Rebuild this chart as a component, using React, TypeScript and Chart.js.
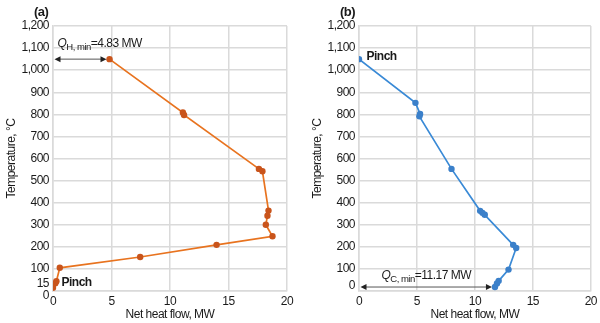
import React, { useEffect, useRef } from 'react';
import { Chart, registerables } from 'chart.js';

Chart.register(...registerables);

const FONT = '"Liberation Sans", Arial, sans-serif';
const TEXT = '#1a1a1a';
const GRID = '#dadada';
const SPACING = '-0.5px';

// Axis ticks
const xTicks = [0, 5, 10, 15, 20];
const yTicks = [0, 100, 200, 300, 400, 500, 600, 700, 800, 900, 1000, 1100, 1200];

// (a) hot composite: net heat flow (MW) vs temperature (°C)
const hotQ = [4.83, 11.1, 11.2, 17.6, 17.9, 18.42, 18.33, 18.19, 18.76, 13.98, 7.45, 0.58, 0.29, 0.2, 0];
const hotT = [1050, 808, 797, 553, 542, 364, 341, 300, 248, 209, 154, 105, 44, 35, 15];

// (b) cold composite
const coldQ = [0, 4.87, 5.27, 5.21, 7.98, 10.45, 10.65, 10.85, 13.3, 13.56, 12.9, 12.05, 11.9, 11.73];
const coldT = [1050, 852, 802, 791, 553, 363, 354, 345, 209, 195, 97, 46, 34, 18];

// Annotation values
const qhMinText = '4.83';
const qcMinText = '11.17';

type Cfg = {
  panel: string;
  q: number[];
  t: number[];
  line: string;
  point: string;
  width: number;
  padRight: number;
  pinch: { x: number; y: number; dx: number; dy: number };
  arrow: { t: number; to: number };
  qLabel: { sub: string; value: string; align: 'left' | 'center'; dy: number };
  extraY: { text: string; value: number; dy: number }[];
};

function drawArrowHead(ctx: CanvasRenderingContext2D, x: number, y: number, dir: number) {
  ctx.beginPath();
  ctx.moveTo(x, y);
  ctx.lineTo(x - dir * 6, y - 3);
  ctx.lineTo(x - dir * 6, y + 3);
  ctx.closePath();
  ctx.fill();
}

function setSpacing(chart: any) {
  const c = chart.ctx as any;
  if (c && 'letterSpacing' in c) c.letterSpacing = SPACING;
}

function makePlugin(cfg: Cfg) {
  return {
    id: 'annotate',
    beforeUpdate(chart: any) {
      setSpacing(chart);
    },
    beforeLayout(chart: any) {
      setSpacing(chart);
    },
    beforeDraw(chart: any) {
      setSpacing(chart);
    },
    afterDraw(chart: any) {
      const { ctx } = chart;
      const xs = chart.scales.x;
      const ys = chart.scales.y;
      ctx.save();
      setSpacing(chart);
      // panel label
      ctx.font = `bold 13px ${FONT}`;
      ctx.fillStyle = TEXT;
      ctx.textBaseline = 'middle';
      ctx.textAlign = 'left';
      ctx.fillText(cfg.panel, 34, 12);

      // extra y-axis labels (offset ones)
      ctx.font = `12px ${FONT}`;
      ctx.textAlign = 'right';
      for (const e of cfg.extraY) {
        ctx.fillText(e.text, xs.left - 4, ys.getPixelForValue(e.value) + e.dy);
      }

      // pinch label
      ctx.font = `bold 12px ${FONT}`;
      ctx.textAlign = 'left';
      ctx.fillText(
        'Pinch',
        xs.getPixelForValue(cfg.pinch.x) + cfg.pinch.dx,
        ys.getPixelForValue(cfg.pinch.y) + cfg.pinch.dy
      );

      // double arrow
      const ay = ys.getPixelForValue(cfg.arrow.t);
      const x0 = xs.getPixelForValue(0) + 1.5;
      const x1 = xs.getPixelForValue(cfg.arrow.to) - 3;
      ctx.strokeStyle = '#555';
      ctx.lineWidth = 1;
      ctx.beginPath();
      ctx.moveTo(x0 + 4, ay);
      ctx.lineTo(x1 - 4, ay);
      ctx.stroke();
      ctx.fillStyle = '#222';
      drawArrowHead(ctx, x0, ay, -1);
      drawArrowHead(ctx, x1, ay, 1);

      // Q label with subscript
      const fMain = `12px ${FONT}`;
      const fQ = `italic 12px ${FONT}`;
      const fSub = `9.5px ${FONT}`;
      const rest = `=${cfg.qLabel.value} MW`;
      ctx.font = fQ;
      const wQ = ctx.measureText('Q').width;
      ctx.font = fSub;
      const wS = ctx.measureText(cfg.qLabel.sub).width;
      ctx.font = fMain;
      const wR = ctx.measureText(rest).width;
      const total = wQ + wS + wR;
      let lx = cfg.qLabel.align === 'left' ? x0 + 3 : (x0 + x1) / 2 - total / 2;
      const by = ay + cfg.qLabel.dy;
      ctx.fillStyle = TEXT;
      ctx.textBaseline = 'alphabetic';
      ctx.textAlign = 'left';
      ctx.font = fQ;
      ctx.fillText('Q', lx, by);
      lx += wQ;
      ctx.font = fSub;
      ctx.fillText(cfg.qLabel.sub, lx, by + 3);
      lx += wS;
      ctx.font = fMain;
      ctx.fillText(rest, lx, by);
      ctx.restore();
    },
  };
}

function Panel({ cfg, left }: { cfg: Cfg; left: number }) {
  const ref = useRef<HTMLCanvasElement>(null);
  useEffect(() => {
    if (!ref.current) return;
    const font = { family: FONT, size: 12 };
    const chart = new Chart(ref.current, {
      type: 'scatter',
      data: {
        datasets: [
          {
            data: cfg.q.map((x, i) => ({ x, y: cfg.t[i] })),
            showLine: true,
            borderColor: cfg.line,
            borderWidth: 1.7,
            backgroundColor: cfg.point,
            pointBackgroundColor: cfg.point,
            pointBorderColor: cfg.point,
            pointRadius: 3.2,
            pointHoverRadius: 3.2,
            pointBorderWidth: 0,
          },
        ],
      },
      options: {
        animation: false,
        responsive: false,
        layout: { padding: { top: 26, right: cfg.padRight, left: 0, bottom: 0 } },
        plugins: { legend: { display: false }, tooltip: { enabled: false } },
        scales: {
          x: {
            type: 'linear',
            min: 0,
            max: 20,
            afterBuildTicks: (s: any) => {
              s.ticks = xTicks.map((v) => ({ value: v }));
            },
            afterFit: (s: any) => {
              s.height = 32;
            },
            grid: { color: GRID, lineWidth: 1.5, drawTicks: false },
            border: { color: GRID, width: 1.5 },
            ticks: { font, color: TEXT, padding: 3, maxRotation: 0, autoSkip: false },
            title: {
              display: true,
              text: 'Net heat flow, MW',
              font,
              color: TEXT,
              padding: { top: 0, bottom: 1 },
            },
          },
          y: {
            type: 'linear',
            min: 0,
            max: 1200,
            afterBuildTicks: (s: any) => {
              s.ticks = yTicks.map((v) => ({ value: v }));
            },
            afterFit: (s: any) => {
              s.width = 53;
            },
            grid: { color: GRID, lineWidth: 1.5, drawTicks: false },
            border: { color: GRID, width: 1.5 },
            ticks: {
              font,
              color: TEXT,
              padding: 4,
              autoSkip: false,
              callback: (v: any) => (v === 0 ? '' : Number(v).toLocaleString('en-US')),
            },
            title: {
              display: true,
              text: 'Temperature, °C',
              font,
              color: TEXT,
              padding: { top: 4, bottom: 0 },
            },
          },
        },
      },
      plugins: [makePlugin(cfg) as any],
    });
    return () => chart.destroy();
  }, [cfg]);
  return (
    <div style={{ position: 'absolute', left, top: 0, width: cfg.width, height: 323 }}>
      <canvas ref={ref} width={cfg.width} height={323} style={{ display: 'block' }} />
    </div>
  );
}

const cfgA: Cfg = {
  panel: '(a)',
  q: hotQ,
  t: hotT,
  line: '#e8731f',
  point: '#c9541b',
  width: 300,
  padRight: 13,
  pinch: { x: 0, y: 15, dx: 8.5, dy: -5 },
  arrow: { t: 1050, to: hotQ[0] },
  qLabel: { sub: 'H, min', value: qhMinText, align: 'left', dy: -12 },
  extraY: [
    { text: '15', value: 15, dy: -4.5 },
    { text: '0', value: 0, dy: 5 },
  ],
};

const cfgB: Cfg = {
  panel: '(b)',
  q: coldQ,
  t: coldT,
  line: '#3a8ad6',
  point: '#3b80ca',
  width: 294,
  padRight: 7.4,
  pinch: { x: 0, y: 1050, dx: 7.5, dy: -2 },
  arrow: { t: 18, to: coldQ[coldQ.length - 1] },
  qLabel: { sub: 'C, min', value: qcMinText, align: 'center', dy: -8 },
  extraY: [{ text: '0', value: 0, dy: -5 }],
};

export default function App() {
  return (
    <div
      style={{
        position: 'fixed',
        left: 0,
        top: 0,
        width: 600,
        height: 323,
        overflow: 'hidden',
        background: '#fff',
      }}
    >
      <Panel cfg={cfgA} left={0} />
      <Panel cfg={cfgB} left={306} />
    </div>
  );
}
